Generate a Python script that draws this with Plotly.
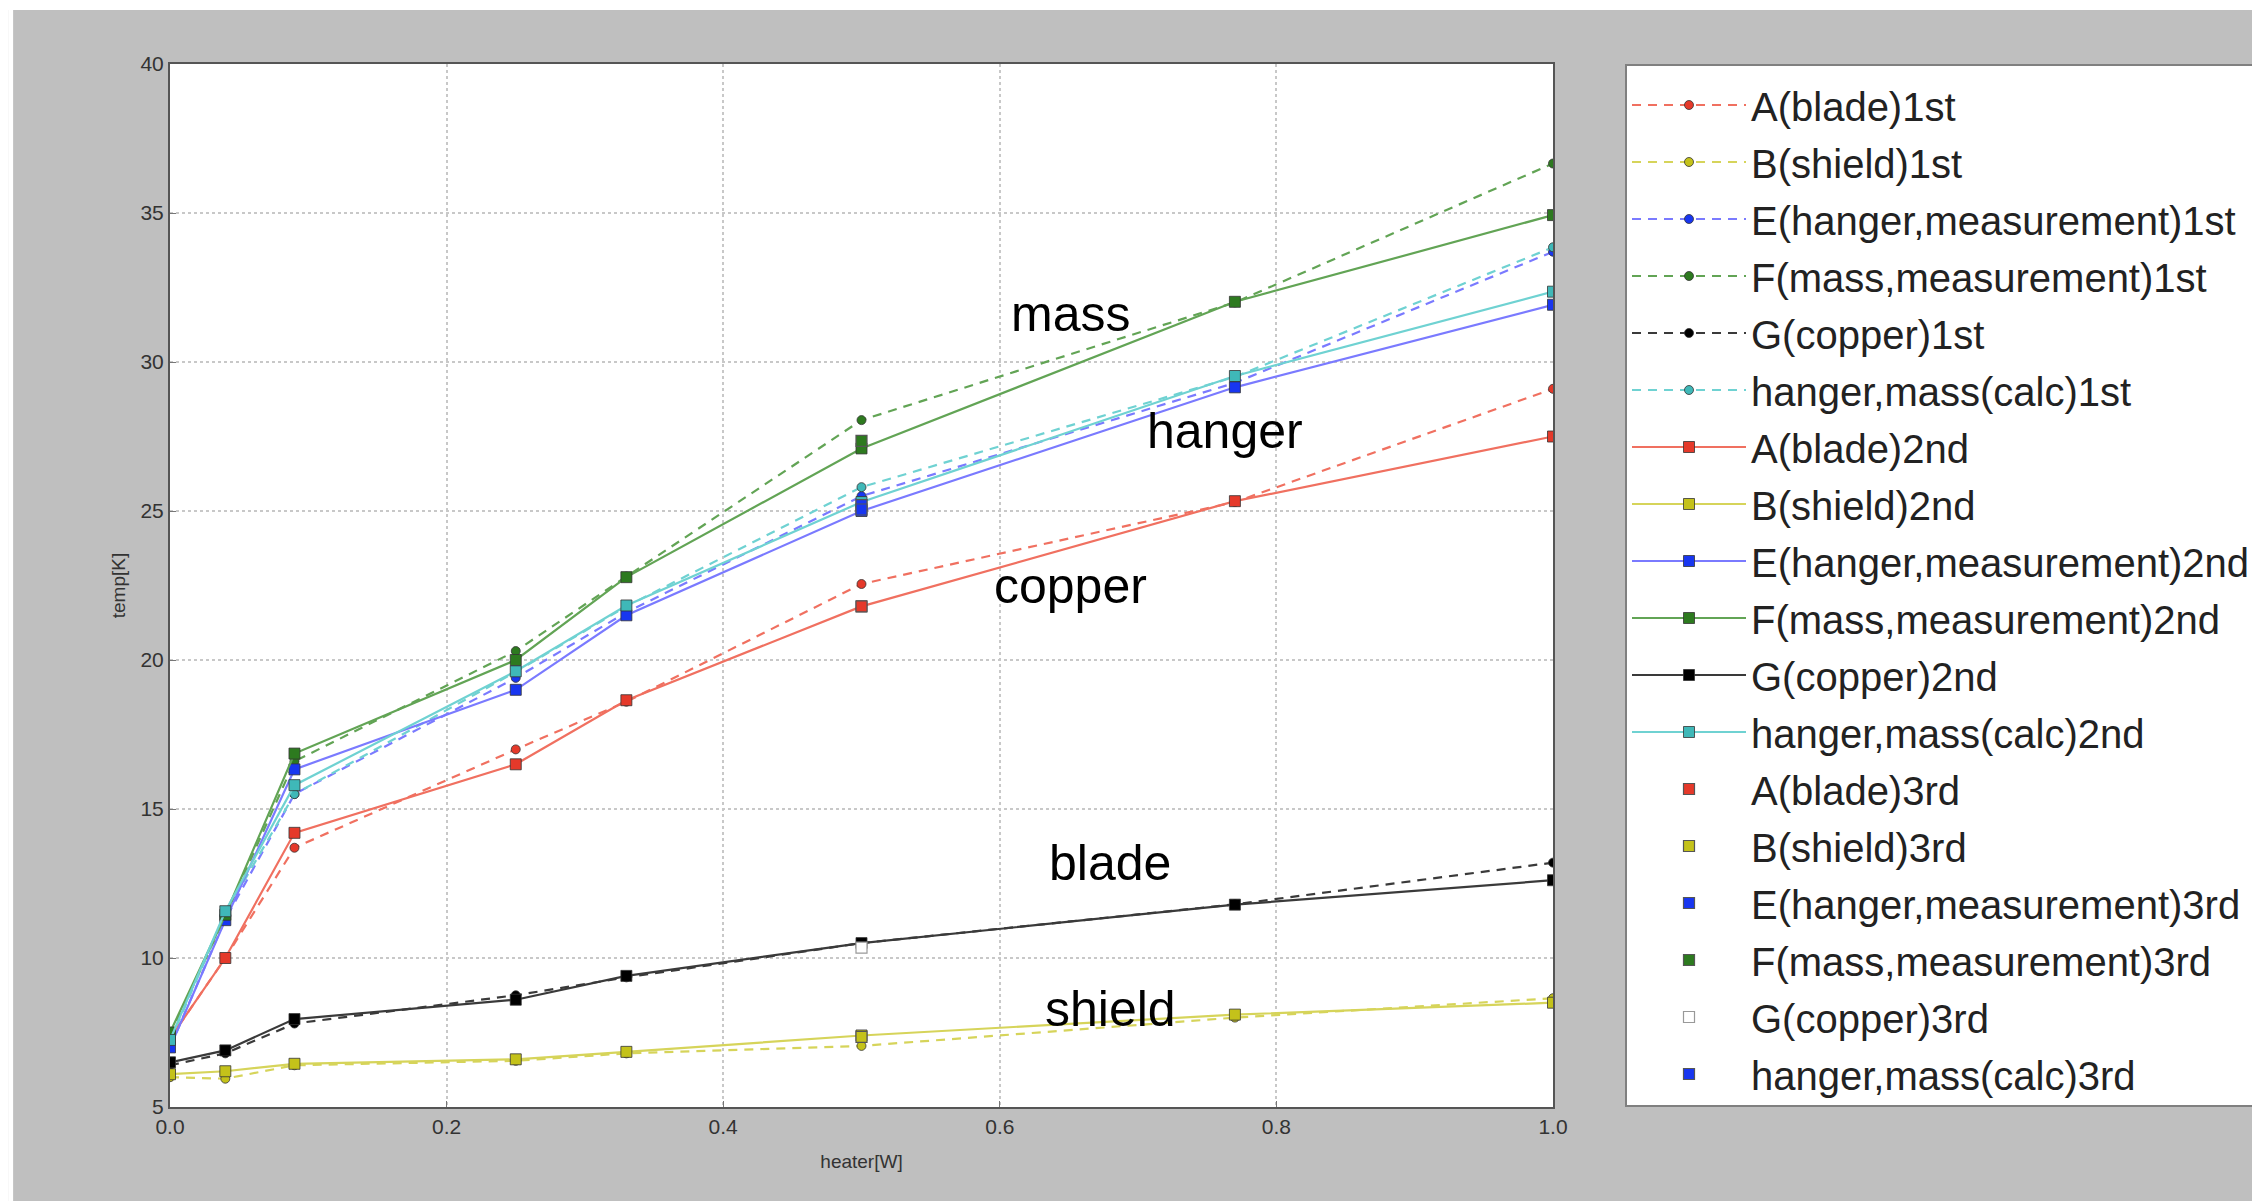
import plotly.graph_objects as go

# ---------------- data ----------------
heater = [0.0, 0.04, 0.09, 0.25, 0.33, 0.5, 0.77, 1.0]

A_1st = [7.3, 10.0, 13.7, 17.0, 18.6, 22.55, 25.3, 29.1]
B_1st = [6.0, 5.95, 6.4, 6.55, 6.8, 7.05, 8.0, 8.65]
E_1st = [7.0, 11.3, 15.5, 19.4, 21.6, 25.5, 29.3, 33.7]
F_1st = [7.4, 11.4, 16.6, 20.3, 22.8, 28.05, 32.0, 36.66]
G_1st = [6.4, 6.8, 7.8, 8.75, 9.35, 10.5, 11.8, 13.2]
C_1st = [7.2, 11.5, 15.5, 19.6, 21.8, 25.8, 29.5, 33.85]

A_2nd = [7.3, 10.0, 14.2, 16.5, 18.65, 21.8, 25.33, 27.5]
B_2nd = [6.1, 6.2, 6.45, 6.6, 6.85, 7.4, 8.1, 8.5]
E_2nd = [7.0, 11.27, 16.33, 19.0, 21.5, 25.0, 29.15, 31.92]
F_2nd = [7.5, 11.45, 16.86, 20.0, 22.78, 27.1, 32.02, 34.93]
G_2nd = [6.5, 6.9, 7.95, 8.6, 9.4, 10.5, 11.79, 12.61]
C_2nd = [7.25, 11.57, 15.8, 19.62, 21.83, 25.3, 29.53, 32.36]

heater_3rd = [0.5]
A_3rd = [21.8]
B_3rd = [7.35]
E_3rd = [25.2]
F_3rd = [27.35]
G_3rd = [10.35]
C_3rd = [25.05]

names = ["A(blade)", "B(shield)", "E(hanger,measurement)", "F(mass,measurement)",
         "G(copper)", "hanger,mass(calc)"]
runs = ["1st", "2nd", "3rd"]

labels = ["mass", "hanger", "copper", "blade", "shield"]
label_x = [0.651, 0.763, 0.651, 0.680, 0.680]
label_y = [31.6, 27.7, 22.5, 13.2, 8.3]

# ---------------- styles ----------------
marker_cols = ["#e5392a", "#c4c21a", "#1836f0", "#2d7a1f", "#000000", "#3fb8b8"]
line_cols = ["#f07060", "#d6d45a", "#7a7aff", "#62a455", "#3a3a3a", "#6fd2d2"]
third_cols = ["#e5392a", "#c4c21a", "#1836f0", "#2d7a1f", "#ffffff", "#1836f0"]
third_edge = ["#555555", "#555555", "#555555", "#555555", "#999999", "#555555"]

data_1st = [A_1st, B_1st, E_1st, F_1st, G_1st, C_1st]
data_2nd = [A_2nd, B_2nd, E_2nd, F_2nd, G_2nd, C_2nd]
data_3rd = [A_3rd, B_3rd, E_3rd, F_3rd, G_3rd, C_3rd]

fig = go.Figure()
k = 0
for i, ys in enumerate(data_1st):
    fig.add_trace(go.Scatter(
        x=heater, y=ys, mode="lines+markers", name=names[i] + runs[0],
        legendgroup="g%d" % k,
        line=dict(color=line_cols[i], width=2.2, dash="9px,7px"),
        marker=dict(symbol="circle", size=9, color=marker_cols[i],
                    line=dict(color="#333333", width=0.8))))
    k += 1
for i, ys in enumerate(data_2nd):
    fig.add_trace(go.Scatter(
        x=heater, y=ys, mode="lines+markers", name=names[i] + runs[1],
        legendgroup="g%d" % k,
        line=dict(color=line_cols[i], width=2.2),
        marker=dict(symbol="square", size=11, color=marker_cols[i],
                    line=dict(color="#333333", width=0.8))))
    k += 1
for i, ys in enumerate(data_3rd):
    fig.add_trace(go.Scatter(
        x=heater_3rd, y=ys, mode="markers", name=names[i] + runs[2],
        legendgroup="g%d" % k,
        marker=dict(symbol="square", size=11, color=third_cols[i],
                    line=dict(color=third_edge[i], width=1.2))))
    k += 1

for t, lx, ly in zip(labels, label_x, label_y):
    fig.add_annotation(x=lx, y=ly, text=t, showarrow=False,
                       font=dict(family="Liberation Sans, Arial", size=50, color="#000000"),
                       xanchor="center", yanchor="middle")

W, H = 2260, 1201
L, T = 162, 56
pw, ph = 1384, 1043
R = W - L - pw
B = H - T - ph


def px2paper_x(px):
    return (px - L) / pw


def px2paper_y(py):
    return (H - B - py) / ph


shapes = [
    dict(type="rect", xref="paper", yref="paper", layer="above",
         x0=px2paper_x(0), x1=px2paper_x(W), y0=px2paper_y(2), y1=px2paper_y(0),
         fillcolor="#ffffff", line=dict(width=0)),
    dict(type="rect", xref="paper", yref="paper", layer="above",
         x0=px2paper_x(0), x1=px2paper_x(5), y0=px2paper_y(H), y1=px2paper_y(0),
         fillcolor="#ffffff", line=dict(width=0)),
]

axis_common = dict(showline=True, linecolor="#555555", linewidth=2, mirror=True,
                   showgrid=True, gridcolor="#c8c8c8", griddash="dot", gridwidth=1.5,
                   ticks="inside", ticklen=6, tickcolor="#777777", zeroline=False,
                   tickfont=dict(family="Liberation Sans, Arial", size=21, color="#333333"))

fig.update_layout(
    width=W, height=H,
    margin=dict(l=L, r=R, t=T, b=B, pad=0),
    paper_bgcolor="#bfbfbf", plot_bgcolor="#ffffff",
    shapes=shapes,
    xaxis=dict(range=[0, 1], dtick=0.2, tickformat=".1f",
               title=dict(text="heater[W]", standoff=17,
                          font=dict(family="Liberation Sans, Arial", size=19, color="#333333")),
               **axis_common),
    yaxis=dict(range=[5, 40], dtick=5,
               title=dict(text="temp[K]", standoff=10,
                          font=dict(family="Liberation Sans, Arial", size=19, color="#333333")),
               **axis_common),
    legend=dict(x=px2paper_x(1617), xanchor="left", y=1, yanchor="top",
                bgcolor="#ffffff", bordercolor="#808080", borderwidth=2,
                title=dict(text=" ", font=dict(size=5)),
                font=dict(family="Liberation Sans, Arial", size=40, color="#222222"),
                tracegroupgap=2, itemwidth=114, traceorder="grouped",
                entrywidth=700, entrywidthmode="pixels"),
    showlegend=True,
)

fig.write_html("out.html")
